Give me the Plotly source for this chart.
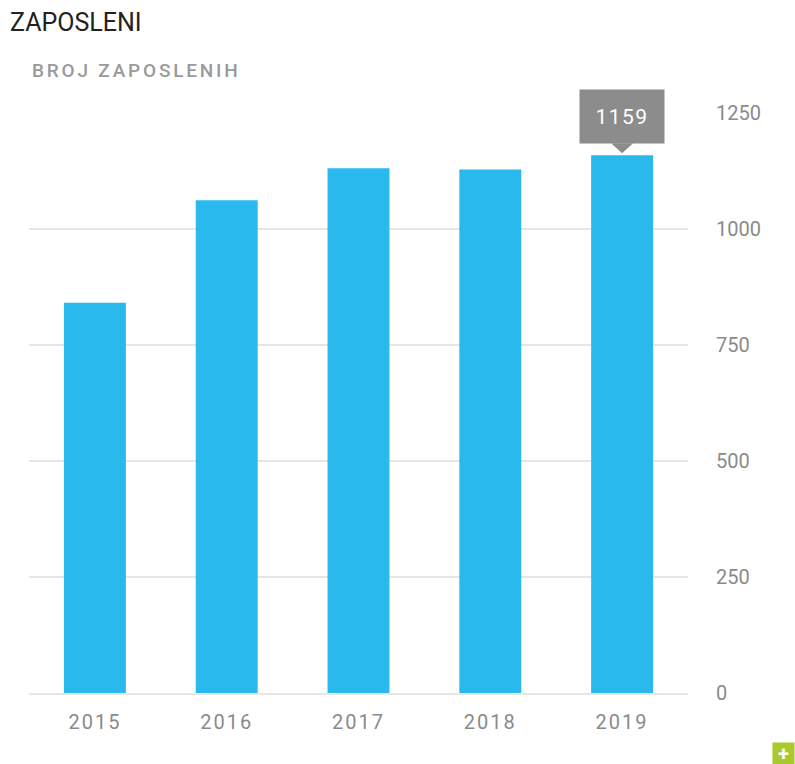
import plotly.graph_objects as go

years = ["2015", "2016", "2017", "2018", "2019"]
employees = [841, 1062, 1131, 1128, 1159]
y_ticks = [0, 250, 500, 750, 1000, 1250]

title_text = "ZAPOSLENI"
subtitle_text = "BROJ ZAPOSLENIH"

BAR = "#29b9ed"
GRID = "#e9e5df"
TICK = "#8a8a8a"
TIP = "#8c8c8c"

fig = go.Figure()
fig.add_trace(go.Bar(
    x=years, y=employees, marker=dict(color=BAR, line=dict(width=0)),
    width=0.47, hoverinfo="skip", showlegend=False,
))

last_idx = len(years) - 1
last_val = employees[last_idx]

fig.update_layout(
    width=795, height=764,
    margin=dict(l=29, r=107, t=113, b=71, autoexpand=False),
    paper_bgcolor="white", plot_bgcolor="white",
    font=dict(family="Roboto", color=TICK),
    title=dict(text=title_text, x=10/795, xanchor="left", xref="container",
               y=1-22/764, yanchor="middle", yref="container",
               font=dict(family="Roboto", size=25, color="#222222")),
    xaxis=dict(type="category", range=[-0.5, len(years)-0.5], autorange=False,
               showgrid=False, showline=True, linecolor=GRID,
               linewidth=2, ticks="", tickfont=dict(size=20, color=TICK),
               tickvals=years,
               ticktext=[f'<span style="letter-spacing:2px">{y}</span>' for y in years],
               ticklabelstandoff=10, tickangle=0, fixedrange=True),
    yaxis=dict(side="right", range=[0, 1250], autorange=False, tickvals=y_ticks,
               showgrid=True, gridcolor=GRID, gridwidth=2, zeroline=False,
               showline=False, ticks="", tickfont=dict(size=20, color=TICK),
               ticklabelstandoff=27, fixedrange=True),
    bargap=0.53,
)

fig.add_annotation(
    xref="paper", yref="paper", x=1/659, y=(693-70)/580,
    xanchor="left", yanchor="middle", showarrow=False,
    text=f'<span style="letter-spacing:2.8px">{subtitle_text}</span>',
    font=dict(family="Roboto", size=19, color="#9a9a9a", weight=500),
)

fig.add_annotation(
    x=last_idx, y=last_val, xref="x", yref="y",
    xanchor="center", yanchor="bottom", yshift=11, showarrow=False,
    text=f'<span style="letter-spacing:1.5px">{last_val}</span>',
    font=dict(family="Roboto", size=21, color="white"),
    bgcolor=TIP, width=84, height=53, borderpad=0,
)
fig.add_shape(
    type="path", xref="x", yref="y",
    xsizemode="pixel", ysizemode="pixel",
    xanchor=last_idx, yanchor=last_val,
    path="M -11,12 L 11,12 L 0,2 Z",
    fillcolor=TIP, line=dict(width=0),
)

fig.add_annotation(
    xref="paper", yref="paper", x=(772-29)/659, y=(693-753)/580,
    xanchor="left", yanchor="middle", showarrow=False,
    text="<b>+</b>", font=dict(family="Roboto", size=20, color="white"),
    bgcolor="#a9c92c", width=21, height=21, borderpad=0,
)

fig.write_html(
    "out.html", config={"displayModeBar": False},
    post_script="document.body.style.margin='0';document.body.style.padding='0';document.body.style.overflow='hidden';",
)
